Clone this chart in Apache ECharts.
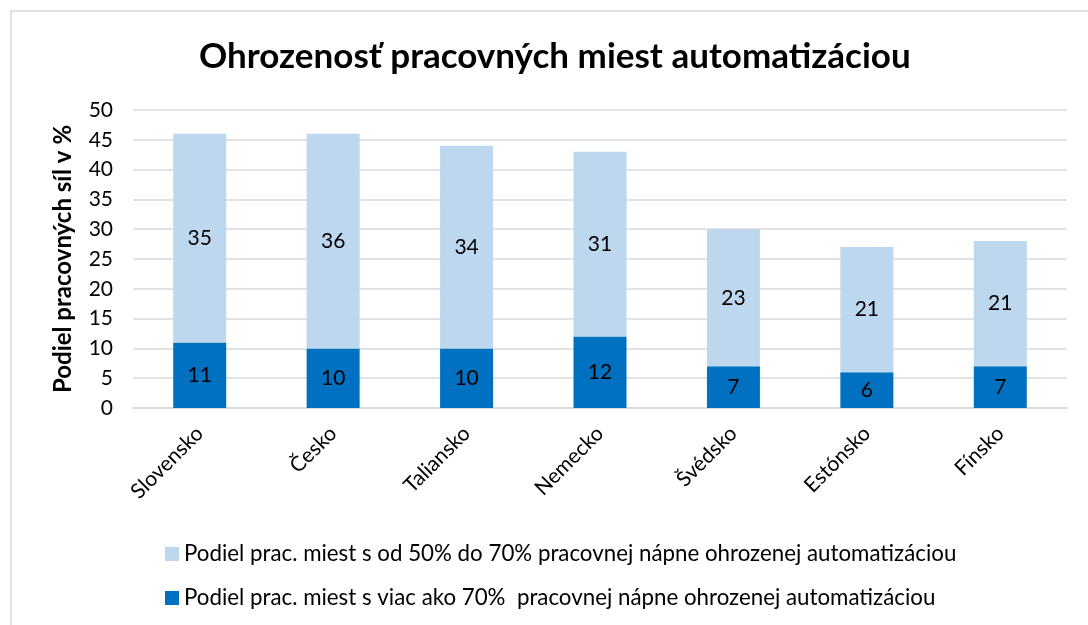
<!DOCTYPE html>
<html>
<head>
<meta charset="utf-8">
<script src="https://cdn.jsdelivr.net/npm/echarts@6/dist/echarts.min.js"></script>
<style>
  html, body { margin: 0; padding: 0; background: #fff; }
  #chart { width: 1088px; height: 625px; }
</style>
</head>
<body>
<div id="chart"></div>
<script>
const countries = ['Slovensko', 'Česko', 'Taliansko', 'Nemecko', 'Švédsko', 'Estónsko', 'Fínsko'];
const highRisk = [11, 10, 10, 12, 7, 6, 7];
const midRisk = [35, 36, 34, 31, 23, 21, 21];
const midName = 'Podiel prac. miest s od 50% do 70% pracovnej nápne ohrozenej automatizáciou';
const highName = 'Podiel prac. miest s viac ako 70%  pracovnej nápne ohrozenej automatizáciou';

const font = 'Lato, "Open Sans", sans-serif';
const chart = echarts.init(document.getElementById('chart'));

chart.setOption({
  animation: false,
  textStyle: { fontFamily: font },
  graphic: [{
    type: 'rect',
    shape: { x: 11, y: 11, width: 1200, height: 700 },
    style: { fill: 'none', stroke: '#d9d9d9', lineWidth: 1.5 },
    silent: true
  }],
  title: {
    text: 'Ohrozenosť pracovných miest automatizáciou',
    left: 194,
    top: 34,
    textStyle: { fontFamily: font, fontSize: 35, fontWeight: 'bold', color: '#000' }
  },
  legend: {
    orient: 'vertical',
    left: 160,
    top: 538,
    itemGap: 22,
    itemWidth: 14,
    itemHeight: 14,
    icon: 'rect',
    data: [midName, highName],
    textStyle: { fontFamily: font, fontSize: 22.3, color: '#000' }
  },
  grid: { left: 133, right: 21, top: 110, bottom: 217, containLabel: false },
  xAxis: {
    type: 'category',
    data: countries,
    axisTick: { show: false },
    axisLine: { lineStyle: { color: '#d9d9d9', width: 1.5 } },
    axisLabel: { rotate: 45, fontSize: 21, color: '#000', fontFamily: font, margin: 22, interval: 0 }
  },
  yAxis: {
    type: 'value',
    min: 0,
    max: 50,
    interval: 5,
    name: 'Podiel pracovných síl v %',
    nameLocation: 'middle',
    nameGap: 58,
    nameTextStyle: { fontFamily: font, fontSize: 24, fontWeight: 'bold', color: '#000' },
    axisLabel: { fontSize: 21, color: '#000', fontFamily: font, margin: 20 },
    splitLine: { lineStyle: { color: '#d9d9d9', width: 1.5 } }
  },
  series: [
    {
      name: highName,
      type: 'bar',
      stack: 'total',
      data: highRisk,
      barWidth: 53,
      itemStyle: { color: '#0070C0' },
      label: { show: true, position: 'inside', fontSize: 21, color: '#000', fontFamily: font }
    },
    {
      name: midName,
      type: 'bar',
      stack: 'total',
      data: midRisk,
      barWidth: 53,
      itemStyle: { color: '#BDD7EE' },
      label: { show: true, position: 'inside', fontSize: 21, color: '#000', fontFamily: font }
    }
  ]
});
</script>
</body>
</html>
